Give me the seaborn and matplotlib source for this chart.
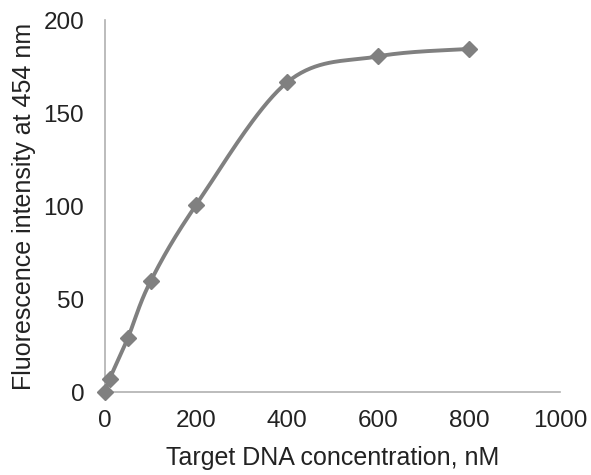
import matplotlib
matplotlib.use("Agg")

import numpy as np
import matplotlib.pyplot as plt
import seaborn as sns

# -----------------------------
# DATA
# -----------------------------
concentration = [0, 10, 50, 100, 200, 400, 600, 800]
intensity = [0, 7, 29, 59.5, 100.5, 166.5, 180.5, 184.5]

x_ticks = [0, 200, 400, 600, 800, 1000]
y_ticks = [0, 50, 100, 150, 200]

LINE_COLOR = "#808080"
TEXT_COLOR = "#222222"


def smooth_curve(xs, ys, steps=40):
    # Excel-style smoothed line: cubic Bezier through the points
    xs = np.asarray(xs, float)
    ys = np.asarray(ys, float)
    n = len(xs)
    out_x, out_y = [], []
    for i in range(n - 1):
        p0 = np.array([xs[max(i - 1, 0)], ys[max(i - 1, 0)]])
        p1 = np.array([xs[i], ys[i]])
        p2 = np.array([xs[i + 1], ys[i + 1]])
        p3 = np.array([xs[min(i + 2, n - 1)], ys[min(i + 2, n - 1)]])
        c1 = p1 + (p2 - p0) / 6.0
        c2 = p2 - (p3 - p1) / 6.0
        t = np.linspace(0, 1, steps)[:, None]
        pts = ((1 - t) ** 3) * p1 + 3 * ((1 - t) ** 2) * t * c1 + 3 * (1 - t) * t ** 2 * c2 + t ** 3 * p2
        out_x.extend(pts[:, 0])
        out_y.extend(pts[:, 1])
    return out_x, out_y


sns.set_style("white")
plt.rcParams["font.family"] = ["Liberation Sans", "DejaVu Sans"]

fig = plt.figure(figsize=(5.91, 4.75), dpi=100)
ax = fig.add_axes([0.1777, 0.1747, 0.770, 0.783])

cx, cy = smooth_curve(concentration, intensity)
sns.lineplot(x=cx, y=cy, ax=ax, color=LINE_COLOR, linewidth=2.8, sort=False, estimator=None)
ax.plot(concentration, intensity, linestyle="none", marker="D", markersize=8,
        color=LINE_COLOR, clip_on=False, zorder=5)

ax.set_xlim(0, 1000)
ax.set_ylim(0, 200)
ax.set_xticks(x_ticks)
ax.set_yticks(y_ticks)
ax.tick_params(axis="both", length=0, labelsize=17.5, colors=TEXT_COLOR)
ax.tick_params(axis="x", pad=13)
ax.tick_params(axis="y", pad=15)

for side in ["top", "right"]:
    ax.spines[side].set_visible(False)
for side in ["left", "bottom"]:
    ax.spines[side].set_color("#b0b0b0")
    ax.spines[side].set_linewidth(1.2)

ax.set_xlabel("Target DNA concentration, nM", fontsize=18, color=TEXT_COLOR, labelpad=10)
ax.set_ylabel("Fluorescence intensity at 454 nm", fontsize=18, color=TEXT_COLOR, labelpad=5)

fig.savefig("out.png", dpi=100)
plt.close(fig)
